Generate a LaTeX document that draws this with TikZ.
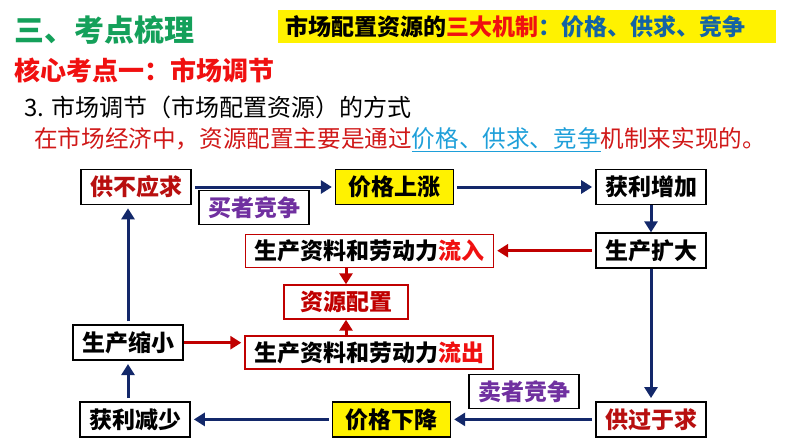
\documentclass[tikz,border=0pt]{standalone}
\usepackage{fontspec}
\setmainfont{Noto Sans CJK SC}
\usetikzlibrary{positioning,arrows.meta}
\definecolor{deepnavy}{HTML}{13286A}
\definecolor{darkred}{HTML}{B80F0F}
\definecolor{boxred}{HTML}{C00000}
\definecolor{hotred}{HTML}{F01010}
\definecolor{notered}{HTML}{D01818}
\definecolor{purp}{HTML}{7030A0}
\definecolor{leaf}{HTML}{14A05A}
\definecolor{steel}{HTML}{1463A5}
\definecolor{sky}{HTML}{1E9FD9}

\begin{document}
\begin{tikzpicture}[
  x=1pt, y=-1pt,
  box/.style={rectangle,draw=black,line width=1.7pt,fill=white,
              inner xsep=9pt,inner ysep=0pt,minimum height=35pt,
              font=\bfseries\fontsize{23}{23}\selectfont},
  price/.style={box,fill=yellow,line width=1.3pt,minimum width=118pt},
  flow/.style={box,draw=boxred,line width=1.4pt,minimum height=33pt},
  tag/.style={box,text=purp,minimum height=34pt},
  arrow/.style={-{Triangle[length=11pt,width=13pt]},line width=3pt,
                deepnavy,shorten <=3pt,shorten >=3pt},
  redarrow/.style={arrow,boxred},
  heading/.style={anchor=west,inner sep=0pt}
]
  \useasboundingbox (0,0) rectangle (794,447);

  % headings
  \node[heading,text=leaf,font=\bfseries\fontsize{30}{30}\selectfont] (title) at (14,30) {三、考点梳理};
  \node[heading,fill=yellow,minimum height=33pt,inner xsep=7pt,text width=484pt,align=left,
        font=\bfseries\fontsize{23}{23}\selectfont] (banner) at (278,26.5)
        {市场配置资源的\textcolor{hotred}{三大机制}\textcolor{steel}{：价格、供求、竞争}};
  \node[heading,text=hotred,font=\bfseries\fontsize{26}{26}\selectfont] (point) at (14,70) {核心考点一：市场调节};
  \node[heading,font=\fontsize{24}{24}\selectfont] (method) at (24,107) {3. 市场调节（市场配置资源）的方式};
  \node[heading,text=notered,font=\fontsize{23.6}{23.6}\selectfont] (note) at (34,140)
        {在市场经济中，资源配置主要是通过\textcolor{sky}{\underline{价格、供求、竞争}}机制来实现的。};

  % the cycle
  \node[box,text=darkred] (short) at (136,187) {供不应求};
  \node[price,right=143pt of short] (rise) {价格上涨};
  \node[box,right=141pt of rise] (gain) {获利增加};
  \node[box,below=27pt of gain] (expand) {生产扩大};
  \node[box,text=darkred,below=132pt of expand] (surplus) {供过于求};
  \node[price,left=144pt of surplus] (fall) {价格下降};
  \node[box,left=141pt of fall] (loss) {获利减少};
  \node[box,above=40pt of loss,xshift=-7pt] (shrink) {生产缩小};

  \node[tag] (buyers) at (254,207.5) {买者竞争};
  \node[tag] (sellers) at (524,391.5) {卖者竞争};

  % resources
  \node[flow] (inflow) at (369.5,251) {生产资料和劳动力\textcolor{hotred}{流入}};
  \node[flow,text=boxred,inner xsep=16pt,minimum height=34pt] (alloc) at (346,302) {资源配置};
  \node[flow] (outflow) at (369,352.5) {生产资料和劳动力\textcolor{hotred}{流出}};

  \draw[arrow] (short) -- (rise);
  \draw[arrow] (rise) -- (gain);
  \draw[arrow,shorten <=0pt,shorten >=0pt] (gain) -- (expand);
  \draw[arrow,shorten <=0pt] (expand) -- (surplus);
  \draw[arrow] (surplus) -- (fall);
  \draw[arrow] (fall) -- (loss);
  \draw[arrow] (loss.north -| shrink) -- (shrink);
  \draw[arrow] (shrink) -- (shrink |- short.south);

  \draw[redarrow] (expand.west) -- (expand.west -| inflow.east);
  \draw[redarrow,shorten <=0pt,shorten >=0pt] (alloc.north |- inflow.south) -- (alloc);
  \draw[redarrow,shorten <=0pt,shorten >=0pt] (alloc.south |- outflow.north) -- (alloc);
  \draw[redarrow,shorten <=0pt] (shrink) -- (shrink -| outflow.west);
\end{tikzpicture}
\end{document}
